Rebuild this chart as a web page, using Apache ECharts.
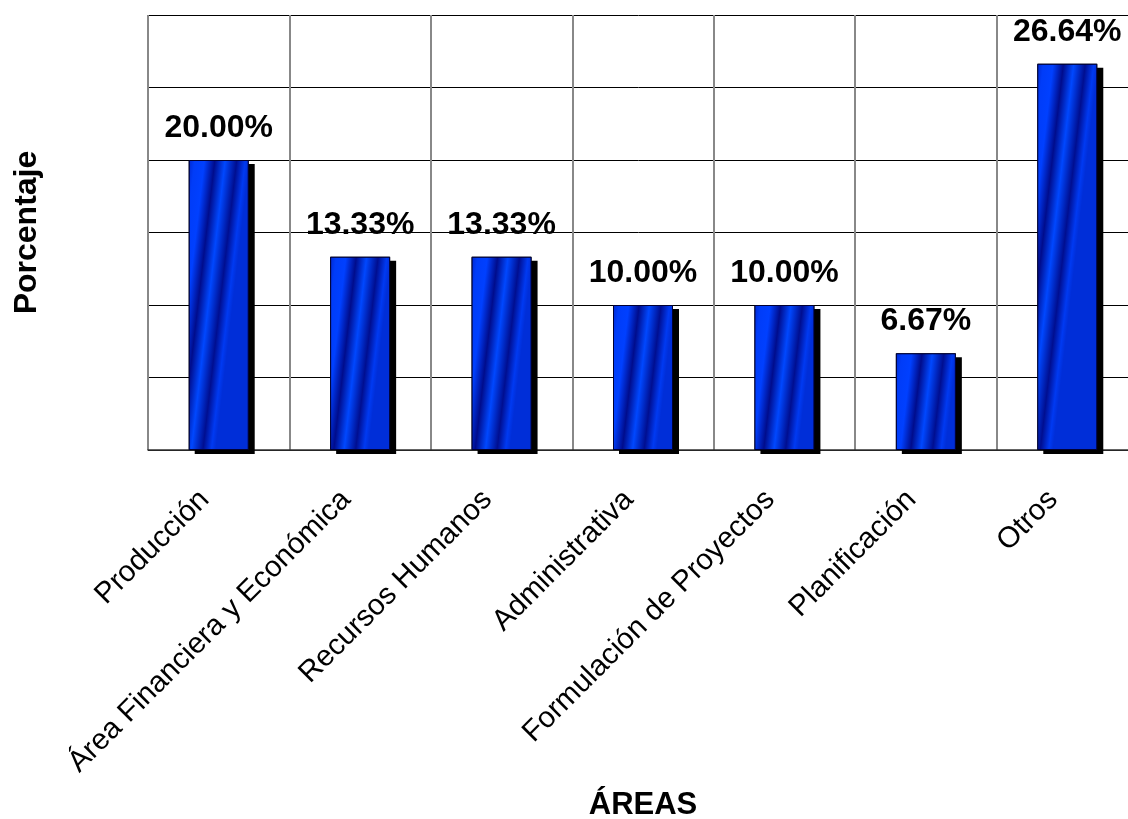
<!DOCTYPE html>
<html>
<head>
<meta charset="utf-8">
<script src="https://cdn.jsdelivr.net/npm/echarts@6/dist/echarts.min.js"></script>
<style>
  html, body { margin: 0; padding: 0; background: #ffffff; }
  #chart { width: 1128px; height: 819px; }
</style>
</head>
<body>
<div id="chart"></div>
<script>
// Distribución de áreas (porcentaje)
const categories = [
  'Producción',
  'Área Financiera y Económica',
  'Recursos Humanos',
  'Administrativa',
  'Formulación de Proyectos',
  'Planificación',
  'Otros'
];
const percentages = [20.00, 13.33, 13.33, 10.00, 10.00, 6.67, 26.64];
const axisMax = 30;
const axisStep = 5;

const FONT = '"Liberation Sans", Arial, sans-serif';

// Diagonal striped blue fill for each bar; the tilt is kept constant in pixels
// by scaling the gradient's vertical component with the bar's height.
const plotHeight = 819 - 15 - 369;
function barFill(value) {
  const barPx = Math.max(1, value / axisMax * plotHeight);
  const dy = 7 / barPx;
  return {
    type: 'linear', x: 0, y: 0, x2: 1, y2: dy,
    colorStops: [
      { offset: 0.00, color: '#0028d0' },
      { offset: 0.10, color: '#003cf8' },
      { offset: 0.26, color: '#0040ff' },
      { offset: 0.43, color: '#000c8c' },
      { offset: 0.60, color: '#0048ff' },
      { offset: 0.79, color: '#000e90' },
      { offset: 0.93, color: '#003af2' },
      { offset: 1.00, color: '#002ed8' }
    ]
  };
}

const chart = echarts.init(document.getElementById('chart'));
chart.setOption({
  backgroundColor: '#ffffff',
  animation: false,
  grid: { left: 148, top: 15, bottom: 369, right: -10, containLabel: false, outerBoundsMode: 'none' },
  xAxis: {
    type: 'category',
    data: categories,
    name: 'ÁREAS',
    nameLocation: 'middle',
    nameGap: 340,
    nameTextStyle: { fontFamily: FONT, fontSize: 31, fontWeight: 'bold', color: '#000' },
    axisLine: { show: true, lineStyle: { color: '#333333', width: 1.5 } },
    axisTick: { show: false },
    axisLabel: {
      rotate: 45, interval: 0, margin: 31,
      padding: [0, 20, 10, 0],
      fontFamily: FONT, fontSize: 29.5, color: '#000'
    },
    splitLine: { show: true, lineStyle: { color: '#888888', width: 2 } }
  },
  yAxis: {
    type: 'value',
    min: 0, max: axisMax, interval: axisStep,
    name: 'Porcentaje',
    nameLocation: 'middle',
    nameGap: 105,
    nameRotate: 90,
    nameTextStyle: { fontFamily: FONT, fontSize: 32, fontWeight: 'bold', color: '#000' },
    axisLine: { show: false },
    axisTick: { show: false },
    axisLabel: { show: false },
    splitLine: { show: true, lineStyle: { color: '#000000', width: 1 } }
  },
  series: [
    {
      // drop shadow behind each bar
      type: 'bar',
      barWidth: 60,
      data: percentages,
      silent: true,
      itemStyle: {
        color: '#000000',
        borderWidth: 0,
        shadowColor: '#000000',
        shadowBlur: 0,
        shadowOffsetX: 6,
        shadowOffsetY: 4
      }
    },
    {
      type: 'bar',
      barWidth: 60,
      barGap: '-100%',
      data: percentages.map(v => ({
        value: v,
        itemStyle: { color: barFill(v) }
      })),
      itemStyle: {
        borderColor: '#000033',
        borderWidth: 1
      },
      label: {
        show: true,
        position: 'top',
        distance: 16,
        fontFamily: FONT,
        fontSize: 32,
        fontWeight: 'bold',
        color: '#000',
        formatter: p => p.value.toFixed(2) + '%'
      }
    }
  ]
});
</script>
</body>
</html>
